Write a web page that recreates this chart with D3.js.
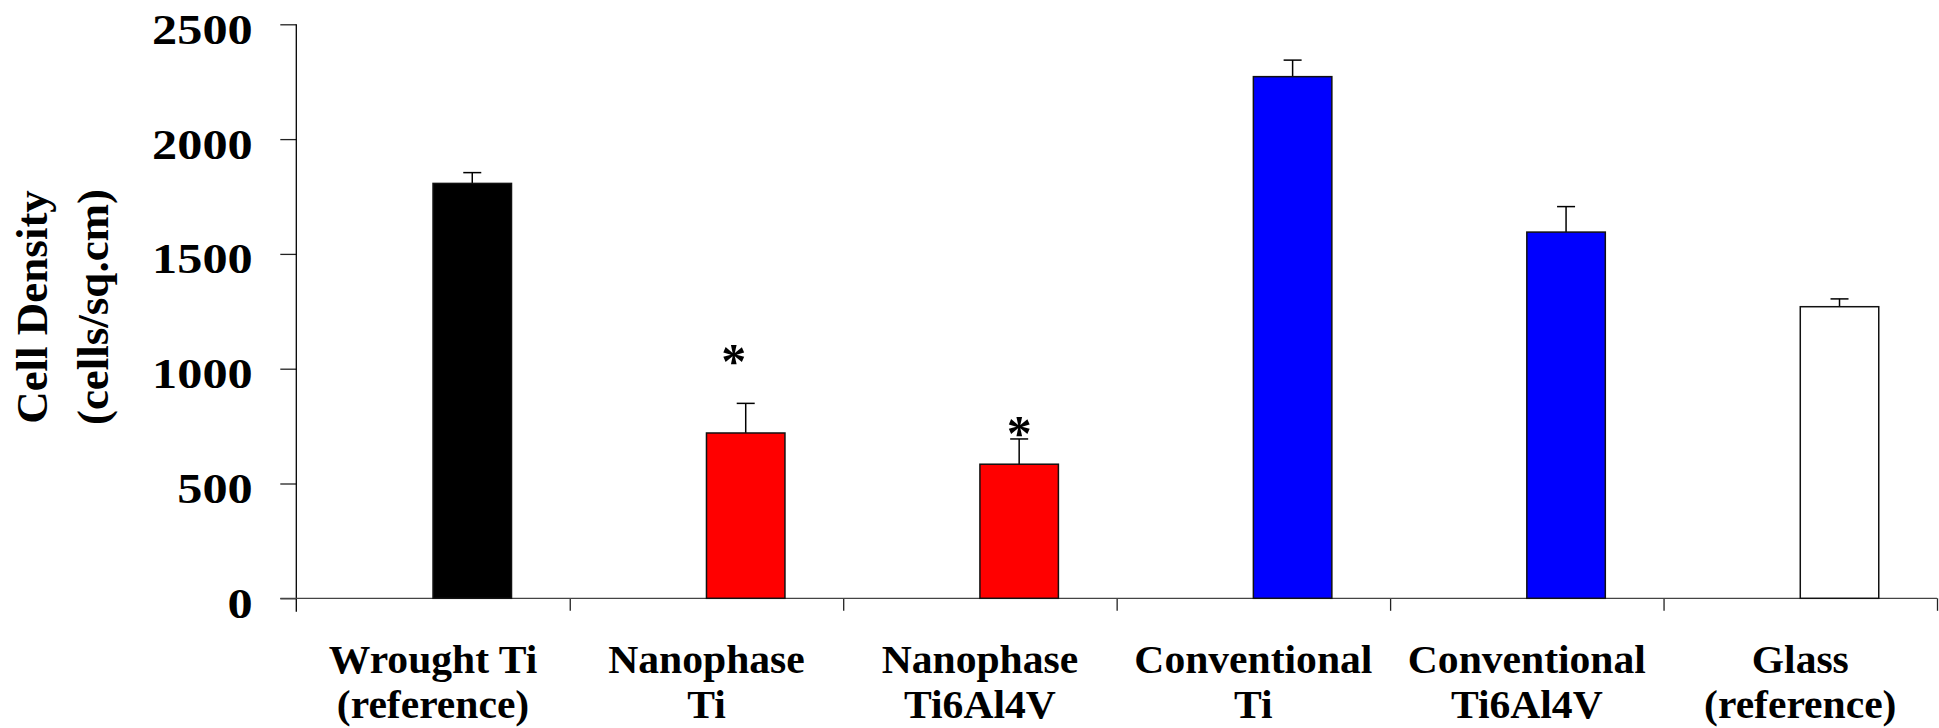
<!DOCTYPE html>
<html>
<head>
<meta charset="utf-8">
<script src="https://cdn.jsdelivr.net/npm/d3@7"></script>
<style>
  html, body { margin: 0; padding: 0; background: #fff; }
  svg { display: block; }
  text { font-family: "Liberation Serif", "Times New Roman", serif; font-weight: bold; fill: #000; }
</style>
</head>
<body>
<svg id="chart" width="1939" height="728"></svg>
<script>
// ---- data ----
const categories = ["Wrought Ti|(reference)", "Nanophase|Ti", "Nanophase|Ti6Al4V",
                    "Conventional|Ti", "Conventional|Ti6Al4V", "Glass|(reference)"];
const values = [1807, 720, 584, 2272, 1595, 1270];
const errors = [47, 129, 110, 72, 111, 34];
const barColors = ["#000000", "#FF0000", "#FF0000", "#0000FF", "#0000FF", "#FFFFFF"];
const stars = [null, 1064, 750, null, null, null]; // significance markers (value level)
const yTicks = [0, 500, 1000, 1500, 2000, 2500];
const yLabelLines = ["Cell Density", "(cells/sq.cm)"];

(function () {
// ---- layout ----
const pLeft = 296.3, pRight = 1937, pTop = 24.3, pBottom = 598.3;

const svg = d3.select("#chart");

const y = d3.scaleLinear().domain([0, 2500]).range([pBottom, pTop]);
const x = d3.scaleBand().domain(categories).range([pLeft, pRight]).padding(0);
const bw = x.bandwidth();
const barW = bw * 0.287;

// y axis
const yAxis = d3.axisLeft(y).tickValues(yTicks).tickSize(16).tickSizeOuter(0).tickFormat(d3.format("d"));
const gy = svg.append("g").attr("transform", `translate(${pLeft},0)`).call(yAxis);
gy.select(".domain").remove();
gy.selectAll(".tick line").attr("stroke", "#222").attr("stroke-width", 1.3);
gy.selectAll(".tick text")
  .attr("x", null).attr("dy", null).attr("y", null)
  .attr("text-anchor", "end")
  .attr("font-size", 43)
  .attr("fill", "#000")
  .attr("transform", "translate(-43.6,19) scale(1.17,1)");
gy.attr("font-family", null).attr("font-size", null);
svg.append("line")
  .attr("x1", pLeft).attr("x2", pLeft)
  .attr("y1", y(2500)).attr("y2", y(0) + 13.4)
  .attr("stroke", "#000").attr("stroke-width", 1.3);

// x axis: boundaries between categories
const bounds = d3.scaleLinear().domain([0, categories.length]).range([pLeft, pRight]);
const xAxis = d3.axisBottom(bounds).tickValues(d3.range(1, categories.length + 1)).tickSize(12.5).tickSizeOuter(0).tickFormat("");
const gx = svg.append("g").attr("transform", `translate(0,${y(0)})`).call(xAxis);
gx.select(".domain").remove();
gx.selectAll(".tick line").attr("stroke", "#222").attr("stroke-width", 1.3);
svg.append("line")
  .attr("x1", pLeft - 16).attr("x2", pRight)
  .attr("y1", y(0)).attr("y2", y(0))
  .attr("stroke", "#444").attr("stroke-width", 1.3);

const data = categories.map((c, i) => ({ c, i, v: values[i], e: errors[i], col: barColors[i], s: stars[i] }));

// error bars
const eg = svg.append("g");
data.forEach(d => {
  const cx = x(d.c) + bw / 2 + barW / 2;
  eg.append("line").attr("x1", cx).attr("x2", cx)
    .attr("y1", y(d.v)).attr("y2", y(d.v + d.e))
    .attr("stroke", "#000").attr("stroke-width", 1.5);
  eg.append("line").attr("x1", cx - 9).attr("x2", cx + 9)
    .attr("y1", y(d.v + d.e)).attr("y2", y(d.v + d.e))
    .attr("stroke", "#000").attr("stroke-width", 1.5);
});

// bars
svg.append("g").selectAll("rect").data(data).join("rect")
  .attr("x", d => x(d.c) + bw / 2)
  .attr("y", d => y(d.v))
  .attr("width", barW)
  .attr("height", d => y(0) - y(d.v))
  .attr("fill", d => d.col)
  .attr("stroke", "#111")
  .attr("stroke-width", 1.5);

// significance stars (first one sits slightly left of its bar in the original)
svg.append("g").selectAll("text").data(data.filter(d => d.s != null)).join("text")
  .attr("x", d => x(d.c) + bw / 2 + barW / 2 - (d.i === 1 ? 12 : 0))
  .attr("y", d => y(d.s) + 24)
  .attr("text-anchor", "middle")
  .attr("font-size", 50)
  .text("*");

// category labels
const cl = svg.append("g");
data.forEach(d => {
  const lines = d.c.split("|");
  const cx = x(d.c) + bw / 2;
  lines.forEach((t, j) => {
    cl.append("text")
      .attr("transform", `translate(${cx},${673.3 + j * 45}) scale(1.04,1)`)
      .attr("text-anchor", "middle")
      .attr("font-size", 40)
      .text(t);
  });
});

// y label
const yMid = 307;
yLabelLines.forEach((t, j) => {
  svg.append("text")
    .attr("transform", `translate(${47 + j * 61},${yMid}) rotate(-90)`)
    .attr("text-anchor", "middle")
    .attr("font-size", 45)
    .text(t);
});
})();
</script>
</body>
</html>
